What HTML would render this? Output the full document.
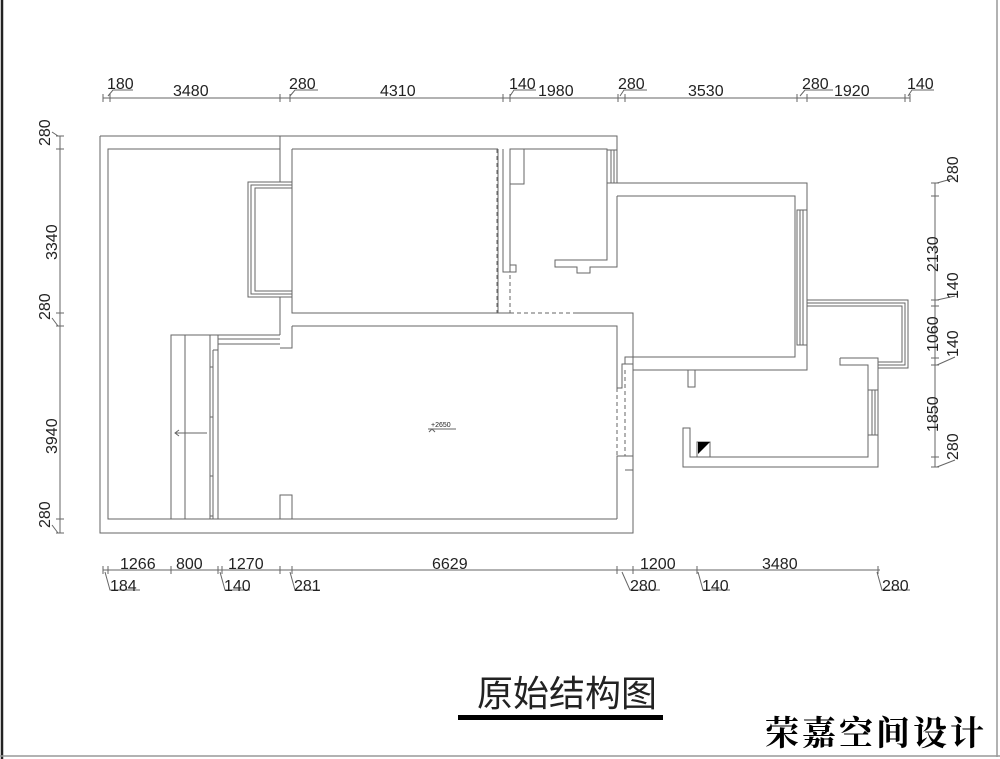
<!DOCTYPE html>
<html><head><meta charset="utf-8"><style>
body{margin:0;background:#fff}
svg{display:block}
text{font-family:"Liberation Sans",sans-serif;fill:#222}
</style></head><body>
<svg width="1000" height="759" viewBox="0 0 1000 759" xmlns="http://www.w3.org/2000/svg">
<line x1="2" y1="0" x2="2" y2="759" stroke="#222" stroke-width="2.5"/>
<line x1="997" y1="0" x2="997" y2="757" stroke="#999" stroke-width="1.5"/>
<line x1="0" y1="756" x2="1000" y2="756" stroke="#999" stroke-width="1.5"/>
<g fill="none" stroke="#666" stroke-width="1">
<polyline points="100,136 617,136 617,183 807,183 807,300"/>
<polyline points="807,345 807,370 633,370 633,533 100,533 100,136"/>
<polyline points="280,149 108,149 108,519 171,519"/>
<polyline points="280,136 280,182"/>
<polyline points="280,297 280,335"/>
<polyline points="292,149 292,182"/>
<polyline points="292,297 292,313 498,313"/>
<polyline points="292,326 292,348 280,348"/>
<polyline points="292,149 498,149"/>
<rect x="248" y="182" width="44" height="115"/>
<rect x="251" y="185" width="41" height="109"/>
<rect x="255" y="188" width="37" height="103"/>
<line x1="497" y1="149" x2="497" y2="313" stroke-dasharray="4,3"/>
<line x1="510" y1="268" x2="510" y2="313" stroke-dasharray="4,3"/>
<line x1="510" y1="313" x2="577" y2="313" stroke-dasharray="4,3"/>
<line x1="510" y1="326" x2="577" y2="326" stroke-dasharray="4,3"/>
<polyline points="498,149 498,313 510,313"/>
<polyline points="503,149 503,272 510,272 510,149"/>
<polyline points="510,265 516,265 516,272 510,272"/>
<rect x="510" y="149" width="14" height="35"/>
<polyline points="510,149 607,149 607,260 555,260 555,267 577,267 577,273 590,273 590,267 617,267 617,196"/>
<rect x="607" y="150" width="10" height="33"/>
<line x1="611" y1="150" x2="611" y2="183"/>
<line x1="614" y1="150" x2="614" y2="183"/>
<polyline points="625,196 795,196 795,357 625,357 625,364"/>
<line x1="617" y1="196" x2="625" y2="196"/>
<rect x="797" y="210" width="10" height="135"/>
<line x1="800" y1="210" x2="800" y2="345"/>
<line x1="803" y1="210" x2="803" y2="345"/>
<polyline points="807,300 908,300 908,368 878,368"/>
<polyline points="807,303 905,303 905,365 878,365"/>
<polyline points="807,306 902,306 902,362 878,362"/>
<rect x="688" y="370" width="7" height="17"/>
<polyline points="840,358 878,358 878,467 683,467 683,428 690,428 690,457 868,457 868,365 840,365 840,358"/>
<rect x="868" y="390" width="10" height="45"/>
<line x1="872" y1="390" x2="872" y2="435"/>
<line x1="875" y1="390" x2="875" y2="435"/>
<rect x="697" y="442" width="13" height="15"/>
<polyline points="292,326 577,326"/>
<polyline points="577,313 633,313 633,370"/>
<polyline points="577,326 617,326 617,388 622,388 622,364 633,364"/>
<line x1="617" y1="388" x2="617" y2="456" stroke-dasharray="4,3"/>
<line x1="625" y1="370" x2="625" y2="456" stroke-dasharray="4,3"/>
<polyline points="617,519 617,456 633,456 633,470 625,470"/>
<polyline points="218,519 617,519"/>
<rect x="280" y="495" width="12" height="24"/>
<rect x="171" y="335" width="47" height="184"/>
<line x1="185" y1="335" x2="185" y2="519"/>
<line x1="210" y1="335" x2="210" y2="519"/>
<line x1="213" y1="350" x2="213" y2="519"/>
<line x1="218" y1="335" x2="280" y2="335"/>
<line x1="218" y1="339" x2="280" y2="339"/>
<line x1="218" y1="344" x2="280" y2="344"/>
<line x1="213" y1="350" x2="218" y2="350"/>
<rect x="210" y="367" width="3" height="50"/>
<rect x="210" y="476" width="3" height="40"/>
<line x1="207" y1="433" x2="175" y2="433"/>
<polyline points="179,430 175,433 179,436"/>
<line x1="428" y1="429" x2="456" y2="429"/>
<polyline points="429,432 432,429 435,432"/>
<line x1="103" y1="98" x2="910" y2="98"/>
<line x1="103" y1="570" x2="880" y2="570"/>
<line x1="60" y1="136" x2="60" y2="533"/>
<line x1="935" y1="183" x2="935" y2="467"/>
</g>
<polygon points="698,442 710,442 698,454" fill="#000"/>
<g stroke="#666" stroke-width="1" fill="none">
<path d="M103,94V102M110,94V102M280,94V102M290,94V102M503,94V102M510,94V102M618,94V102M625,94V102M797,94V102M807,94V102M905,94V102M910,94V102"/>
<path d="M108,96L113,90H133M290,96L295,90H318M510,96L514,90H536M620,96L624,90H647M800,96L805,90H833M908,96L912,90H934"/>
<path d="M103,566V574M108,566V574M171,566V574M218,566V574M222,566V574M280,566V574M292,566V574M617,566V574M633,566V574M697,566V574M878,566V574"/>
<path d="M105,572L110,590H140M220,572L225,590H250M290,572L295,590H320M622,572L630,590H660M698,572L703,590H730M877,572L882,590H910"/>
<path d="M56,136H64M56,149H64M56,313H64M56,326H64M56,519H64M56,533H64"/>
<path d="M931,183H939M931,196H939M931,300H939M931,306H939M931,358H939M931,365H939M931,457H939M931,467H939"/>
<path d="M58,136L52,132M58,326L52,318M58,533L52,525M937,183L955,178M937,300L955,296M937,365L955,357M937,467L955,460"/>
</g>
<g font-size="16">
<text x="107" y="89">180</text><text x="173" y="96">3480</text>
<text x="289" y="89">280</text><text x="380" y="96">4310</text>
<text x="509" y="89">140</text><text x="538" y="96">1980</text>
<text x="618" y="89">280</text><text x="688" y="96">3530</text>
<text x="802" y="89">280</text><text x="834" y="96">1920</text>
<text x="907" y="89">140</text>
<text x="120" y="569">1266</text><text x="176" y="569">800</text><text x="228" y="569">1270</text>
<text x="432" y="569">6629</text><text x="640" y="569">1200</text><text x="762" y="569">3480</text>
<text x="110" y="591">184</text><text x="224" y="591">140</text><text x="294" y="591">281</text>
<text x="630" y="591">280</text><text x="702" y="591">140</text><text x="882" y="591">280</text>
</g>
<g font-size="16">
<text transform="translate(50,146) rotate(-90)">280</text>
<text transform="translate(57,260) rotate(-90)">3340</text>
<text transform="translate(50,320) rotate(-90)">280</text>
<text transform="translate(57,454) rotate(-90)">3940</text>
<text transform="translate(50,528) rotate(-90)">280</text>
<text transform="translate(958,183) rotate(-90)">280</text>
<text transform="translate(938,272) rotate(-90)">2130</text>
<text transform="translate(958,299) rotate(-90)">140</text>
<text transform="translate(938,352) rotate(-90)">1060</text>
<text transform="translate(958,357) rotate(-90)">140</text>
<text transform="translate(938,432) rotate(-90)">1850</text>
<text transform="translate(958,460) rotate(-90)">280</text>
</g>
<text x="431" y="427" font-size="7">+2650</text>
<text x="477" y="706" font-size="36" style='font-family:"Liberation Sans","Noto Sans CJK SC",sans-serif'>原始结构图</text>
<rect x="458" y="715" width="205" height="5" fill="#000"/>
<text x="765" y="745" font-size="34" font-weight="bold" letter-spacing="3" style='font-family:"Noto Serif CJK SC","WenQuanYi Zen Hei",serif;fill:#000'>荣嘉空间设计</text>
</svg>
</body></html>
